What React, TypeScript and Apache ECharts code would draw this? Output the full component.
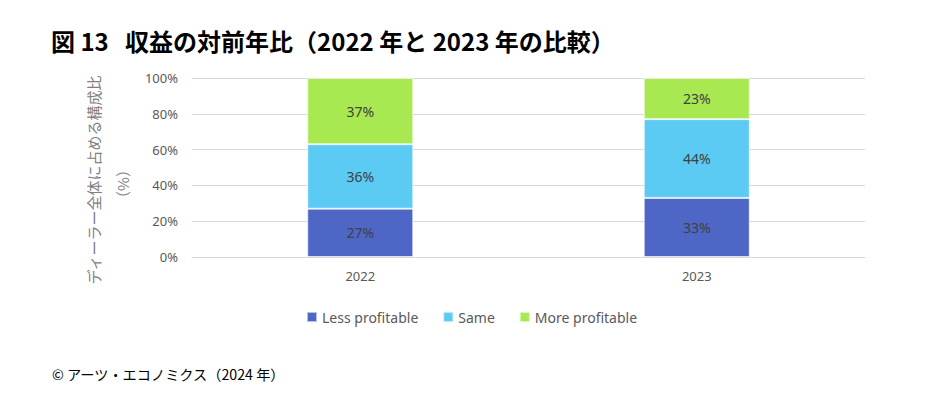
import React, { useEffect, useRef } from "react";
import * as echarts from "echarts";

const categories = ["2022", "2023"];
const lessProfitable = [27, 33];
const same = [36, 44];
const moreProfitable = [37, 23];
const seriesNames = ["Less profitable", "Same", "More profitable"];
const yTicks = [0, 20, 40, 60, 80, 100];

const FONT = "'Noto Sans', 'Noto Sans CJK JP', sans-serif";
const JFONT = "'Noto Sans CJK JP', 'Noto Sans', sans-serif";

export default function App() {
  const ref = useRef<HTMLDivElement>(null);
  useEffect(() => {
    if (!ref.current) return;
    const chart = echarts.init(ref.current, undefined, { renderer: "svg" });
    const colors = ["#4E66C6", "#5BCBF4", "#A8E851"];
    const data = [lessProfitable, same, moreProfitable];
    chart.setOption({
      animation: false,
      backgroundColor: "#ffffff",
      textStyle: { fontFamily: FONT },
      grid: { left: 192, right: 63, top: 78, bottom: 161, containLabel: false },
      legend: {
        data: seriesNames,
        left: 301,
        top: 305,
        itemWidth: 10,
        itemHeight: 10,
        itemGap: 24,
        icon: "rect",
        textStyle: { color: "#595959", fontSize: 14, fontFamily: FONT },
      },
      xAxis: {
        type: "category",
        data: categories,
        axisLine: { lineStyle: { color: "#D9D9D9", width: 1 } },
        axisTick: { show: false },
        axisLabel: { color: "#595959", fontSize: 13, margin: 12, fontFamily: FONT },
      },
      yAxis: {
        type: "value",
        min: 0,
        max: 100,
        interval: 20,
        axisLine: { show: false },
        axisTick: { show: false },
        splitLine: { lineStyle: { color: "#D9D9D9", width: 1 } },
        axisLabel: {
          color: "#595959",
          fontSize: 13,
          margin: 14,
          fontFamily: FONT,
          formatter: (v: number) => (yTicks.includes(v) ? v + "%" : ""),
        },
      },
      series: data.map((d, i) => ({
        name: seriesNames[i],
        type: "bar",
        stack: "total",
        data: d,
        barWidth: "31.5%",
        itemStyle: { color: colors[i], borderColor: "rgba(255,255,255,0.6)", borderWidth: 1 },
        label: {
          show: true,
          position: "inside",
          formatter: "{c}%",
          color: "#404040",
          fontSize: 14,
          fontFamily: FONT,
        },
      })),
      graphic: [
        {
          type: "text",
          left: 51,
          top: 28,
          style: {
            text: "図 13   収益の対前年比（2022 年と 2023 年の比較）",
            fill: "#000000",
            font: `bold 24px ${JFONT}`,
          },
        },
        {
          type: "text",
          x: 93,
          y: 180,
          rotation: Math.PI / 2,
          style: {
            text: "ディーラー全体に占める構成比",
            fill: "#808080",
            font: `15px ${JFONT}`,
            align: "center",
            verticalAlign: "middle",
          },
        },
        {
          type: "text",
          x: 122,
          y: 184,
          rotation: Math.PI / 2,
          style: {
            text: "（%）",
            fill: "#808080",
            font: `15px ${JFONT}`,
            align: "center",
            verticalAlign: "middle",
          },
        },
        {
          type: "text",
          left: 52,
          top: 367,
          style: {
            text: "© アーツ・エコノミクス（2024 年）",
            fill: "#000000",
            font: `14.2px ${JFONT}`,
          },
        },
      ],
    });
    return () => chart.dispose();
  }, []);
  return <div ref={ref} style={{ width: 928, height: 418, margin: -8 }} />;
}
